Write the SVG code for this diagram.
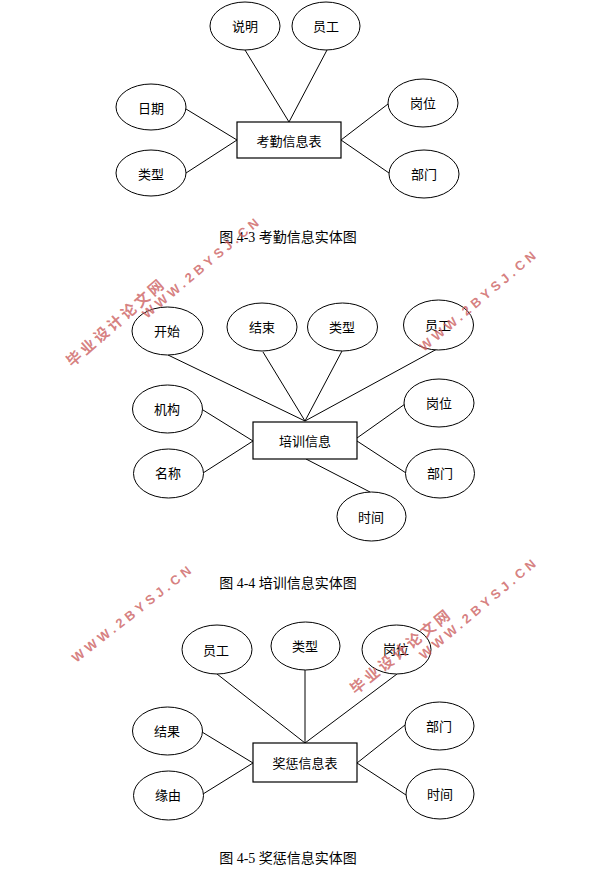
<svg xmlns="http://www.w3.org/2000/svg" width="597" height="874" viewBox="0 0 597 874">
<style>
.bg{fill:#ffffff}
.attr ellipse{fill:#ffffff;stroke:#000000;stroke-width:1}
.ent rect{fill:#ffffff;stroke:#000000;stroke-width:1.2}
.lbl{font-family:"Noto Sans CJK SC","Liberation Sans",sans-serif;font-size:13px;fill:#000000;text-anchor:middle;dominant-baseline:central}
.cap{font-family:"Liberation Serif","Noto Sans CJK SC",serif;font-size:14px;fill:#000000;text-anchor:middle}
.conn line{stroke:#000000;stroke-width:1}
.wm{font-family:"Liberation Sans","Noto Sans CJK SC",sans-serif;font-weight:bold;fill:#cc5f5f;fill-opacity:0.8;text-anchor:middle;dominant-baseline:central}
.wm1{font-size:13px;letter-spacing:4px}
.wm2{font-size:15px;letter-spacing:3px}
</style>
<rect class="bg" x="0" y="0" width="597" height="874"/>

<!-- Diagram 4-3 -->
<g class="conn" id="conn-43">
<line x1="245" y1="50" x2="289" y2="122"/>
<line x1="327" y1="50" x2="289" y2="122"/>
<line x1="186" y1="109" x2="237" y2="140"/>
<line x1="186" y1="173" x2="237" y2="140"/>
<line x1="388" y1="104" x2="341" y2="140"/>
<line x1="389" y1="173" x2="341" y2="140"/>
</g>
<g id="e43" class="ent"><rect x="237" y="122" width="104" height="36"/><text class="lbl" x="289" y="140">考勤信息表</text></g>
<g id="a43-shuoming" class="attr"><ellipse cx="245" cy="26" rx="35" ry="24"/><text class="lbl" x="245" y="25">说明</text></g>
<g id="a43-yuangong" class="attr"><ellipse cx="326" cy="26" rx="34" ry="24"/><text class="lbl" x="326" y="25">员工</text></g>
<g id="a43-riqi" class="attr"><ellipse cx="151" cy="107" rx="35" ry="23"/><text class="lbl" x="151" y="107">日期</text></g>
<g id="a43-leixing" class="attr"><ellipse cx="151" cy="173" rx="35" ry="23"/><text class="lbl" x="151" y="173">类型</text></g>
<g id="a43-gangwei" class="attr"><ellipse cx="423" cy="103" rx="35" ry="24"/><text class="lbl" x="423" y="102">岗位</text></g>
<g id="a43-bumen" class="attr"><ellipse cx="424" cy="174" rx="35" ry="24"/><text class="lbl" x="424" y="173">部门</text></g>
<text class="cap" x="288" y="242">图 4-3 考勤信息实体图</text>

<!-- Diagram 4-4 -->
<g class="conn" id="conn-44">
<line x1="168" y1="355" x2="305" y2="421"/>
<line x1="263" y1="352" x2="305" y2="421"/>
<line x1="342" y1="351" x2="305" y2="421"/>
<line x1="437" y1="349" x2="305" y2="421"/>
<line x1="203" y1="410" x2="253" y2="441"/>
<line x1="203" y1="473" x2="253" y2="441"/>
<line x1="405" y1="404" x2="357" y2="438"/>
<line x1="406" y1="473" x2="357" y2="441"/>
<line x1="306" y1="459" x2="370" y2="492"/>
</g>
<g id="e44" class="ent"><rect x="253" y="422" width="104" height="37"/><text class="lbl" x="305" y="440">培训信息</text></g>
<g id="a44-kaishi" class="attr"><ellipse cx="167.5" cy="331" rx="35.5" ry="24"/><text class="lbl" x="167" y="330">开始</text></g>
<g id="a44-jieshu" class="attr"><ellipse cx="262" cy="327" rx="35" ry="24"/><text class="lbl" x="262" y="326">结束</text></g>
<g id="a44-leixing" class="attr"><ellipse cx="342.5" cy="327" rx="35" ry="24"/><text class="lbl" x="342" y="326">类型</text></g>
<g id="a44-yuangong" class="attr"><ellipse cx="438.5" cy="325" rx="35" ry="25"/><text class="lbl" x="438" y="324">员工</text></g>
<g id="a44-jigou" class="attr"><ellipse cx="167.5" cy="409" rx="35" ry="24"/><text class="lbl" x="167" y="408">机构</text></g>
<g id="a44-mingcheng" class="attr"><ellipse cx="168.5" cy="473.5" rx="35" ry="24.5"/><text class="lbl" x="168" y="472">名称</text></g>
<g id="a44-gangwei" class="attr"><ellipse cx="439" cy="403" rx="35" ry="24"/><text class="lbl" x="439" y="402">岗位</text></g>
<g id="a44-bumen" class="attr"><ellipse cx="440" cy="473.5" rx="34.5" ry="24.5"/><text class="lbl" x="440" y="472">部门</text></g>
<g id="a44-shijian" class="attr"><ellipse cx="371.5" cy="516.5" rx="34.5" ry="24.5"/><text class="lbl" x="371" y="516">时间</text></g>
<text class="cap" x="288" y="588">图 4-4 培训信息实体图</text>

<!-- Diagram 4-5 -->
<g class="conn" id="conn-45">
<line x1="217" y1="674" x2="305" y2="743"/>
<line x1="305" y1="670" x2="305" y2="743"/>
<line x1="397" y1="674" x2="305" y2="743"/>
<line x1="202" y1="732" x2="253" y2="763"/>
<line x1="203" y1="794" x2="253" y2="763"/>
<line x1="405" y1="725" x2="357" y2="763"/>
<line x1="406" y1="795" x2="357" y2="763"/>
</g>
<g id="e45" class="ent"><rect x="253" y="743" width="104" height="39"/><text class="lbl" x="305" y="762">奖惩信息表</text></g>
<g id="a45-yuangong" class="attr"><ellipse cx="217" cy="649.5" rx="35" ry="24.5"/><text class="lbl" x="216" y="649">员工</text></g>
<g id="a45-leixing" class="attr"><ellipse cx="305.5" cy="646" rx="34.5" ry="24"/><text class="lbl" x="305" y="645">类型</text></g>
<g id="a45-gangwei" class="attr"><ellipse cx="396.5" cy="649.5" rx="34.5" ry="24.5"/><text class="lbl" x="396" y="648">岗位</text></g>
<g id="a45-jieguo" class="attr"><ellipse cx="167.5" cy="731" rx="35" ry="24"/><text class="lbl" x="167" y="730">结果</text></g>
<g id="a45-yuanyou" class="attr"><ellipse cx="168.5" cy="795.5" rx="35" ry="24.5"/><text class="lbl" x="168" y="794">缘由</text></g>
<g id="a45-bumen" class="attr"><ellipse cx="439.5" cy="726" rx="34.5" ry="24"/><text class="lbl" x="439" y="725">部门</text></g>
<g id="a45-shijian" class="attr"><ellipse cx="440" cy="794" rx="34" ry="25"/><text class="lbl" x="440" y="793">时间</text></g>
<text class="cap" x="288" y="863">图 4-5 奖惩信息实体图</text>

<!-- Watermarks -->
<g id="watermarks">
<text class="wm wm1" transform="translate(202,267) rotate(-40)">WWW.2BYSJ.CN</text>
<text class="wm wm2" transform="translate(116,322) rotate(-41)">毕业设计论文网</text>
<text class="wm wm1" transform="translate(479,300) rotate(-40)">WWW.2BYSJ.CN</text>
<text class="wm wm1" transform="translate(133,613) rotate(-38)">WWW.2BYSJ.CN</text>
<text class="wm wm1" transform="translate(479,608) rotate(-40)">WWW.2BYSJ.CN</text>
<text class="wm wm2" transform="translate(401,651) rotate(-39)">毕业设计论文网</text>
</g>
</svg>
